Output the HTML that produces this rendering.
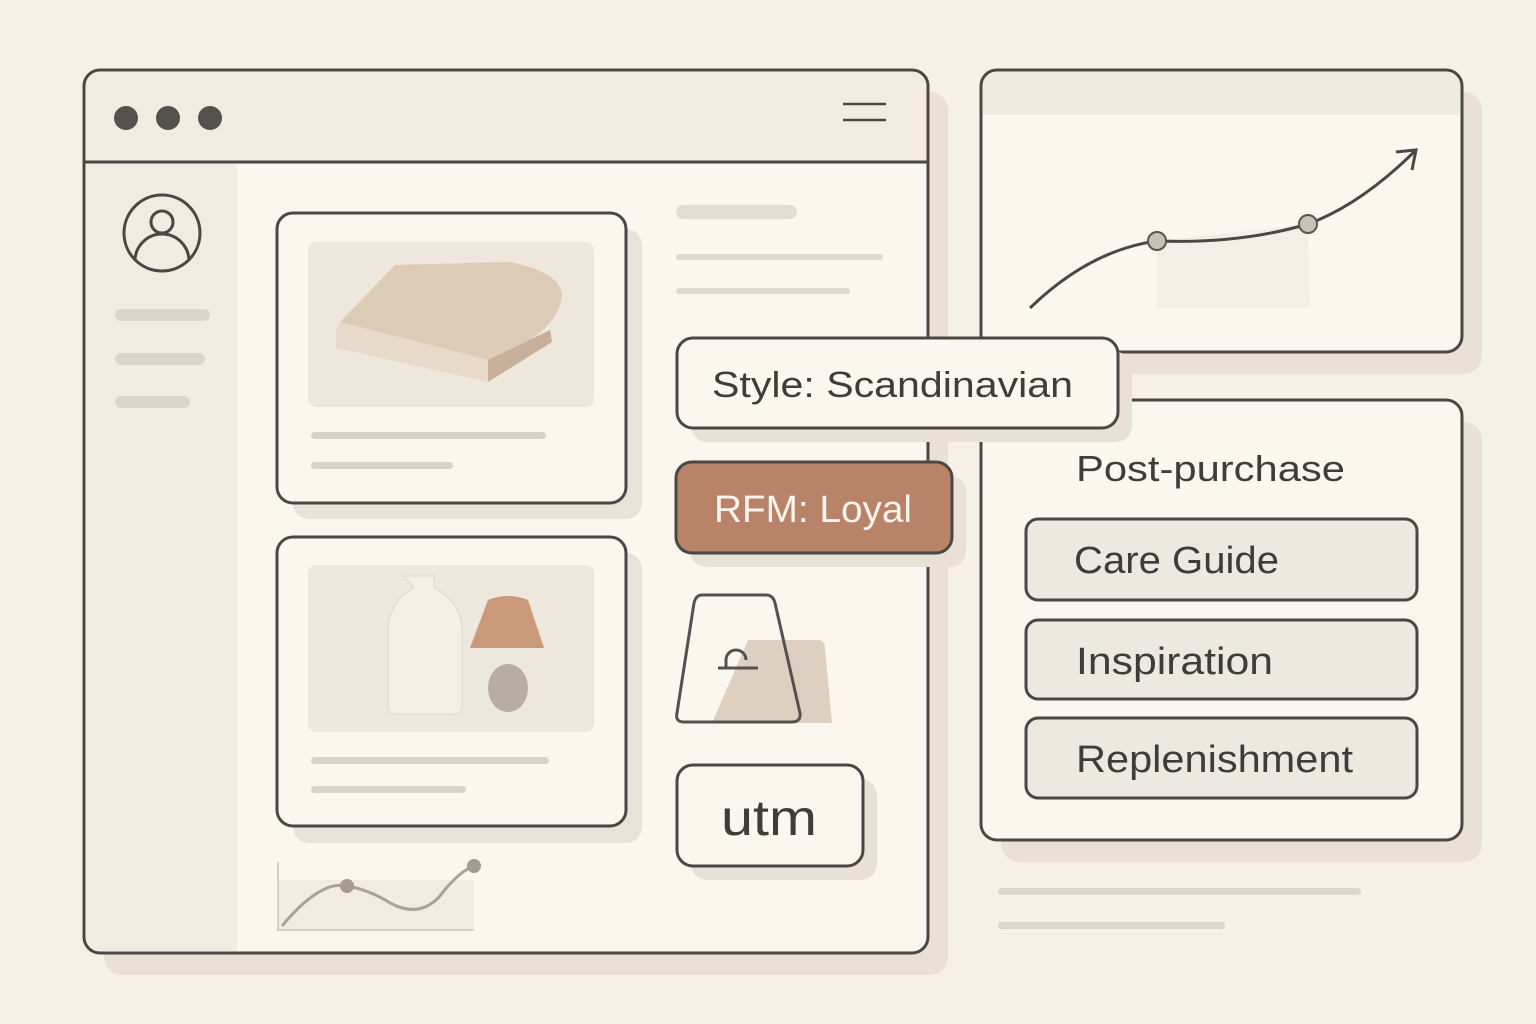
<!DOCTYPE html>
<html><head><meta charset="utf-8"><style>
html,body{margin:0;padding:0;background:#f6f0e7;}
svg{display:block}
text{font-family:"Liberation Sans",sans-serif;fill:#3f3d3a}
</style></head><body>
<svg width="1536" height="1024" viewBox="0 0 1536 1024" xmlns="http://www.w3.org/2000/svg">
<rect width="1536" height="1024" fill="#f6f0e7"/>
<g fill="#e9e1d6">
<rect x="104" y="92" width="844" height="883" rx="18"/>
<rect x="1001" y="92" width="481" height="282" rx="18"/>
<rect x="1001" y="422" width="481" height="440" rx="18"/>
</g>
<rect x="84" y="70" width="844" height="883" rx="16" fill="#fbf7ef"/>
<path d="M86 162 V86 a14 14 0 0 1 14 -14 H912 a14 14 0 0 1 14 14 V162 Z" fill="#f1ebe2"/>
<path d="M86 164 H237 V951 H100 a14 14 0 0 1 -14 -14 Z" fill="#f1ebe2"/>
<rect x="84" y="70" width="844" height="883" rx="16" fill="none" stroke="#4a4744" stroke-width="3"/>
<line x1="84" y1="162" x2="928" y2="162" stroke="#4a4744" stroke-width="3"/>
<g fill="#55524e"><circle cx="126" cy="118" r="12"/><circle cx="168" cy="118" r="12"/><circle cx="210" cy="118" r="12"/></g>
<g stroke="#4a4744" stroke-width="2.5"><line x1="843" y1="104" x2="886" y2="104"/><line x1="843" y1="120" x2="886" y2="120"/></g>
<g fill="none" stroke="#4a4744" stroke-width="3">
<circle cx="162" cy="233" r="38"/><circle cx="162" cy="222" r="11"/>
<path d="M135 261 a27 27 0 0 1 54 0"/>
</g>
<g fill="#dbd5cc">
<rect x="115" y="309" width="95" height="12" rx="6"/>
<rect x="115" y="353" width="90" height="12" rx="6"/>
<rect x="115" y="396" width="75" height="12" rx="6"/>
</g>
<g fill="#e9e2d8"><rect x="293" y="229" width="349" height="290" rx="16"/><rect x="293" y="553" width="349" height="290" rx="16"/></g>
<rect x="277" y="213" width="349" height="290" rx="16" fill="#fbf7ef" stroke="#4a4744" stroke-width="3"/>
<rect x="308" y="242" width="286" height="165" rx="8" fill="#ede7de"/>
<path d="M395 265 L510 262 Q560 272 562 295 Q560 320 530 340 L488 360 L340 322 Z" fill="#dccbb7"/>
<path d="M336 330 L340 322 L488 360 L488 382 L336 348 Z" fill="#e8dacb"/>
<path d="M488 382 L488 360 L550 330 L552 342 Z" fill="#c7b19a"/>
<g fill="#d9d2c8"><rect x="311" y="432" width="235" height="7" rx="3.5"/><rect x="311" y="462" width="142" height="7" rx="3.5"/></g>
<rect x="277" y="537" width="349" height="289" rx="16" fill="#fbf7ef" stroke="#4a4744" stroke-width="3"/>
<rect x="308" y="565" width="286" height="167" rx="8" fill="#ede7de"/>
<path d="M404 576 h30 v12 q28 14 28 44 v74 q0 8 -10 8 h-54 q-10 0 -10 -8 v-74 q0 -30 26 -44 Z" fill="#f5f0e7" stroke="#e0d8cc"/>
<ellipse cx="508" cy="688" rx="20" ry="24" fill="#b7aea2"/>
<path d="M470 648 L488 600 Q508 592 528 600 L544 648 Z" fill="#c9997a"/>
<g fill="#d9d2c8"><rect x="311" y="757" width="238" height="7" rx="3.5"/><rect x="311" y="786" width="155" height="7" rx="3.5"/></g>
<rect x="278" y="880" width="196" height="50" fill="#f1ebe2"/>
<path d="M278 862 V930 H474" fill="none" stroke="#d6cfc5" stroke-width="2"/>
<path d="M282 926 Q320 880 347 886 Q370 890 392 904 Q420 918 440 896 Q458 872 474 866" fill="none" stroke="#aaa299" stroke-width="3"/>
<g fill="#a49c92"><circle cx="347" cy="886" r="7"/><circle cx="474" cy="866" r="7"/></g>
<g fill="#e3ddd3"><rect x="676" y="205" width="121" height="14" rx="7"/></g>
<g fill="#e0d9cf"><rect x="676" y="254" width="207" height="6" rx="3"/><rect x="676" y="288" width="174" height="6" rx="3"/></g>
<rect x="981" y="70" width="481" height="282" rx="16" fill="#fbf7ef"/>
<path d="M983 115 V86 a14 14 0 0 1 14 -14 H1446 a14 14 0 0 1 14 14 V115 Z" fill="#f0eae1"/>
<path d="M1157 241 L1308 224 L1310 308 L1157 308 Z" fill="#f3eee6"/>
<rect x="981" y="70" width="481" height="282" rx="16" fill="none" stroke="#4a4744" stroke-width="3"/>
<path d="M1030 308 Q1090 250 1157 241 Q1240 244 1308 224 Q1360 205 1414 152" fill="none" stroke="#4a4744" stroke-width="3"/>
<path d="M1396 152 L1416 150 L1412 170" fill="none" stroke="#4a4744" stroke-width="3"/>
<g fill="#c9c1b5" stroke="#5a5652" stroke-width="2"><circle cx="1157" cy="241" r="9"/><circle cx="1308" cy="224" r="9"/></g>
<rect x="981" y="400" width="481" height="440" rx="16" fill="#fbf7ef" stroke="#4a4744" stroke-width="3"/>
<text x="1076" y="481" font-size="36" textLength="269" lengthAdjust="spacingAndGlyphs">Post-purchase</text>
<g fill="#ede8e0" stroke="#4a4744" stroke-width="3">
<rect x="1026" y="519" width="391" height="81" rx="12"/>
<rect x="1026" y="620" width="391" height="79" rx="12"/>
<rect x="1026" y="718" width="391" height="80" rx="12"/>
</g>
<text x="1074" y="573" font-size="38" textLength="205" lengthAdjust="spacingAndGlyphs">Care Guide</text>
<text x="1076" y="674" font-size="38" textLength="197" lengthAdjust="spacingAndGlyphs">Inspiration</text>
<text x="1076" y="772" font-size="38" textLength="277" lengthAdjust="spacingAndGlyphs">Replenishment</text>
<g fill="#ddd6cc"><rect x="998" y="888" width="363" height="7" rx="3.5"/><rect x="998" y="922" width="227" height="7" rx="3.5"/></g>
<g fill="#e9e1d6"><rect x="691" y="352" width="441" height="90" rx="16"/><rect x="690" y="476" width="276" height="91" rx="16"/><rect x="691" y="779" width="186" height="101" rx="16"/></g>
<rect x="677" y="338" width="441" height="90" rx="16" fill="#fbf7ef" stroke="#4a4744" stroke-width="3"/>
<text x="712" y="397" font-size="36" textLength="361" lengthAdjust="spacingAndGlyphs">Style: Scandinavian</text>
<rect x="676" y="462" width="276" height="91" rx="16" fill="#b98369" stroke="#4a4744" stroke-width="3"/>
<text x="714" y="522" font-size="38" textLength="198" lengthAdjust="spacingAndGlyphs" style="fill:#fbf4ec">RFM: Loyal</text>
<path d="M748 640 H818 Q824 640 825 648 L832 723 H712 Z" fill="#ddd0c0"/>
<path d="M702 595 H766 Q773 595 775 603 L800 713 Q801 722 792 722 H684 Q675 722 677 713 L694 603 Q696 595 702 595 Z" fill="none" stroke="#55524e" stroke-width="3"/>
<path d="M726 667 V660 a10 10 0 0 1 20 0 M718 668 H758" fill="none" stroke="#55524e" stroke-width="3"/>
<rect x="677" y="765" width="186" height="101" rx="16" fill="#fbf7ef" stroke="#4a4744" stroke-width="3"/>
<text x="769" y="835" font-size="50" text-anchor="middle" textLength="96" lengthAdjust="spacingAndGlyphs">utm</text>
</svg>
</body></html>
